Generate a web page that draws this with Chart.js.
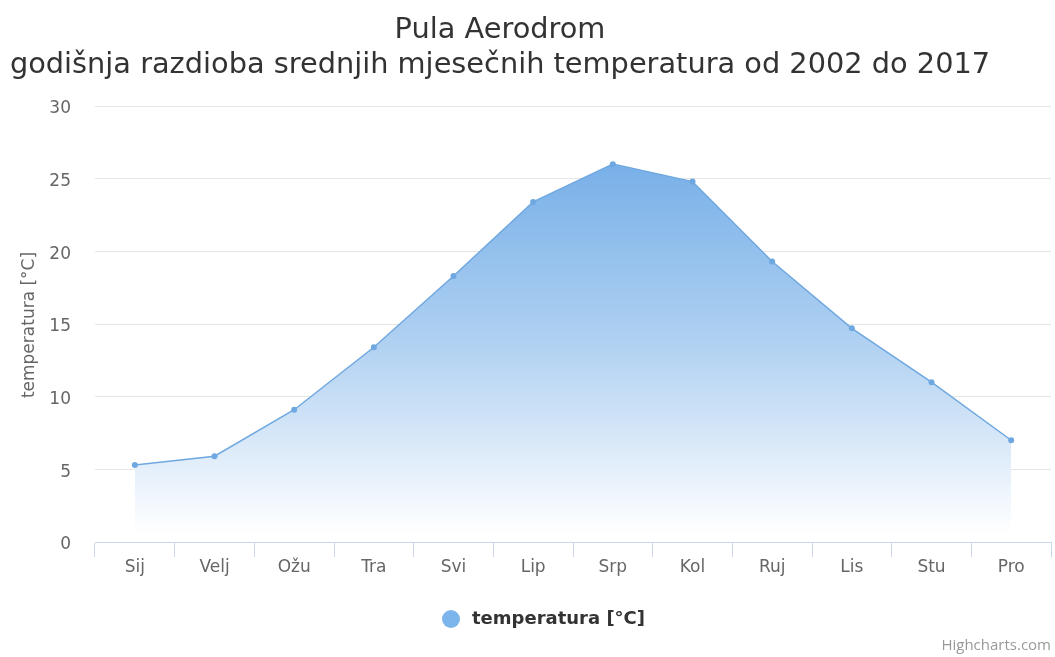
<!DOCTYPE html>
<html>
<head>
<meta charset="utf-8">
<script src="https://cdn.jsdelivr.net/npm/chart.js@4/dist/chart.umd.min.js"></script>
<style>
  html, body { margin: 0; padding: 0; background: #ffffff; }
  #wrap { width: 1055px; height: 657px; position: relative; }
</style>
</head>
<body>
<div id="wrap"><canvas id="c" width="1055" height="657"></canvas></div>
<script>
// Monthly mean temperatures, Pula Aerodrom 2002–2017
const months = ['Sij', 'Velj', 'Ožu', 'Tra', 'Svi', 'Lip', 'Srp', 'Kol', 'Ruj', 'Lis', 'Stu', 'Pro'];
const temperatures = [5.3, 5.9, 9.1, 13.4, 18.3, 23.4, 26.0, 24.8, 19.3, 14.7, 11.0, 7.0];
const titleLines = ['Pula Aerodrom', 'godišnja razdioba srednjih mjesečnih temperatura od 2002 do 2017'];
const seriesName = 'temperatura [°C]';
const yAxisTitle = 'temperatura [°C]';
const creditText = 'Highcharts.com';

const FONT = '"DejaVu Sans", "Open Sans", sans-serif';
const CREDIT_FONT = '"Open Sans", "DejaVu Sans", sans-serif';
const lineColor = '#6fa8e0';

// Vertical gradient from the series colour down to white at the plot bottom
function areaFill(context) {
  const chart = context.chart;
  const area = chart.chartArea;
  if (!area) return 'rgba(124,181,236,0.5)';
  const y = chart.scales.y;
  const top = y.getPixelForValue(Math.max(...temperatures));
  const g = chart.ctx.createLinearGradient(0, top, 0, area.bottom - 8);
  g.addColorStop(0, 'rgb(120,176,232)');
  g.addColorStop(0.5, 'rgb(178,210,242)');
  g.addColorStop(1, 'rgb(255,255,255)');
  return g;
}

// Title, axis title, legend and credit text drawn on the canvas
const decorations = {
  id: 'decorations',
  afterDraw(chart) {
    const ctx = chart.ctx;
    ctx.save();
    ctx.fillStyle = '#333333';
    ctx.textAlign = 'center';
    ctx.textBaseline = 'alphabetic';
    ctx.font = '28.8px ' + FONT;
    ctx.fillText(titleLines[0], 500, 38);
    ctx.fillText(titleLines[1], 500, 73);

    // y axis title
    ctx.save();
    ctx.translate(30, 325);
    ctx.rotate(-Math.PI / 2);
    ctx.fillStyle = '#666666';
    ctx.font = '17px ' + FONT;
    ctx.textBaseline = 'middle';
    ctx.fillText(yAxisTitle, 0, 0);
    ctx.restore();

    // legend
    ctx.font = 'bold 18px ' + FONT;
    ctx.textAlign = 'left';
    ctx.textBaseline = 'middle';
    ctx.fillStyle = '#333333';
    ctx.fillText(seriesName, 472, 619);
    ctx.beginPath();
    ctx.arc(451, 619, 9, 0, Math.PI * 2);
    ctx.fillStyle = '#7cb5ec';
    ctx.fill();

    // credit
    ctx.font = '15px ' + CREDIT_FONT;
    ctx.textAlign = 'right';
    ctx.fillStyle = '#999999';
    ctx.fillText(creditText, 1051, 646);
    ctx.restore();
  }
};

new Chart(document.getElementById('c'), {
  type: 'line',
  data: {
    labels: months,
    datasets: [{
      label: seriesName,
      data: temperatures,
      fill: 'origin',
      backgroundColor: areaFill,
      borderColor: lineColor,
      borderWidth: 1.5,
      pointRadius: 3,
      pointBackgroundColor: lineColor,
      pointBorderColor: lineColor,
      pointBorderWidth: 0,
      tension: 0
    }]
  },
  options: {
    responsive: false,
    animation: false,
    devicePixelRatio: 1,
    layout: { padding: { top: 106, bottom: 65, left: 0, right: 0 } },
    plugins: {
      legend: { display: false },
      title: { display: false },
      tooltip: { enabled: false }
    },
    scales: {
      x: {
        type: 'category',
        offset: true,
        grid: {
          offset: true,
          drawOnChartArea: false,
          drawTicks: true,
          tickLength: 15,
          color: '#ccd6eb'
        },
        border: { display: true, color: '#ccd6eb', width: 1 },
        ticks: {
          color: '#666666',
          font: { family: FONT, size: 17 },
          padding: 0,
          maxRotation: 0
        },
        afterFit(scale) { scale.height = 50; }
      },
      y: {
        min: 0,
        max: 30,
        ticks: {
          stepSize: 5,
          color: '#666666',
          font: { family: FONT, size: 17 },
          padding: 24,
          labelOffset: 3
        },
        grid: { color: '#e6e6e6', drawTicks: false, lineWidth: 1 },
        border: { display: false },
        afterFit(scale) { scale.width = 95; }
      }
    }
  },
  plugins: [decorations]
});
</script>
</body>
</html>
